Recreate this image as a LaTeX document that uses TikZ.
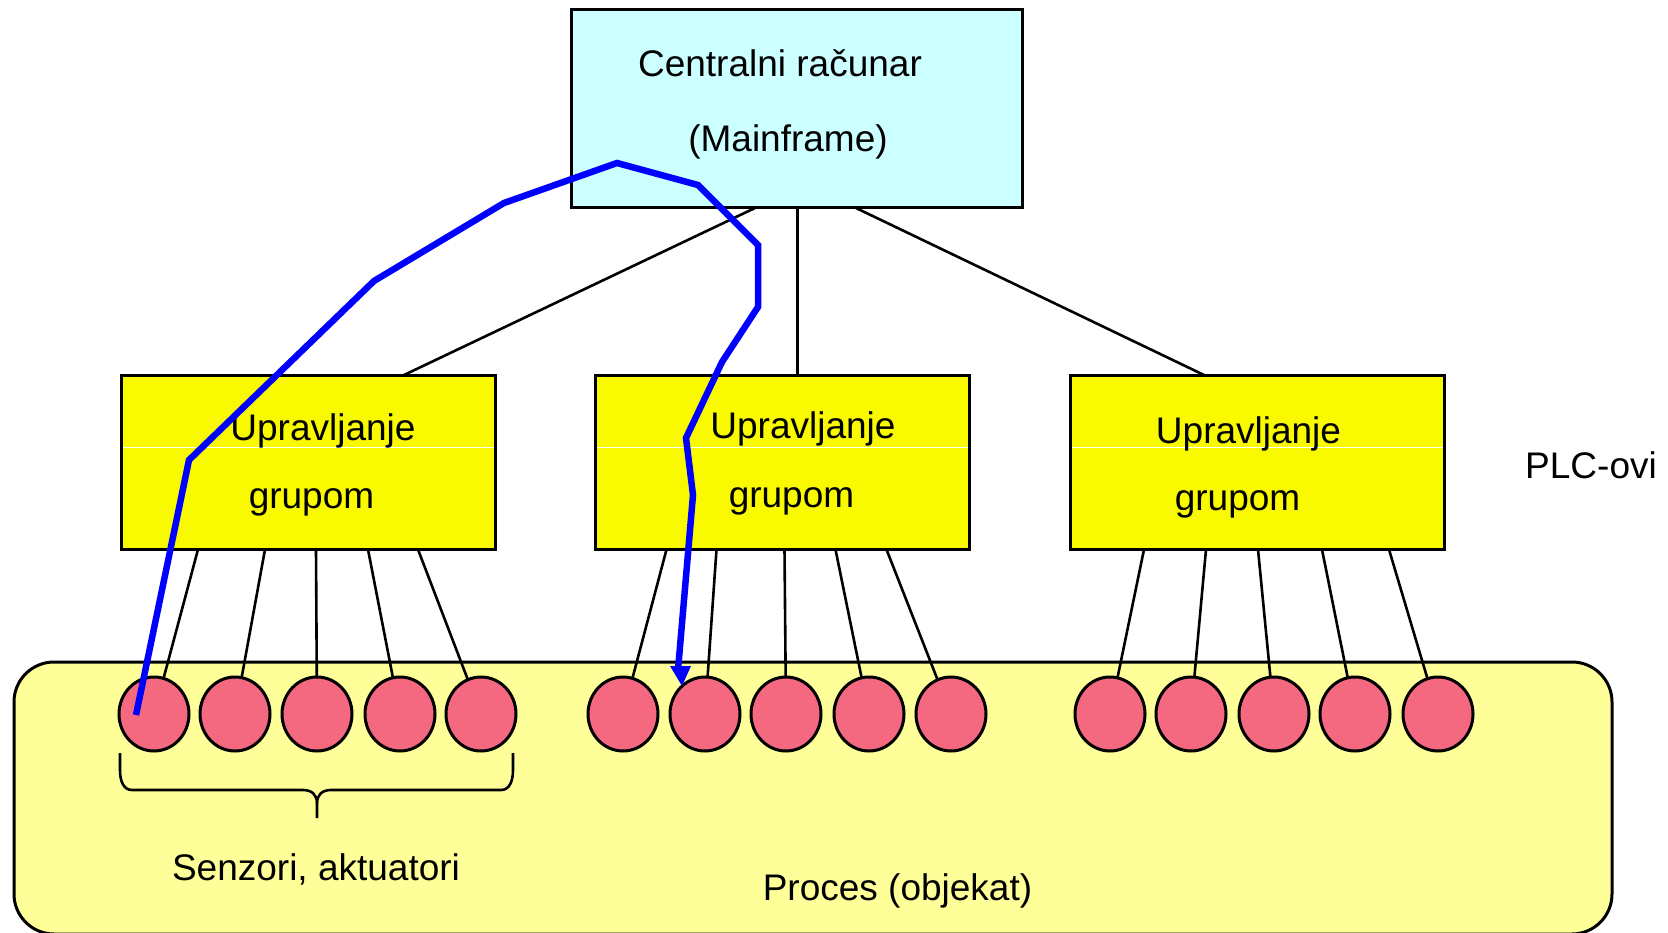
\documentclass[tikz,border=0pt]{standalone}
\usepackage{fontspec}
\setmainfont{Liberation Sans}
\usetikzlibrary{shapes.geometric}
\definecolor{mfcyan}{RGB}{204,255,255}
\definecolor{plcyellow}{RGB}{249,249,0}
\definecolor{procyellow}{RGB}{255,255,153}
\definecolor{senspink}{RGB}{244,104,128}

\begin{document}
\begin{tikzpicture}[x=1pt,y=-1pt]
\tikzstyle{every node}+=[inner sep=0pt,outer sep=0pt]
\tikzstyle{lbl}=[font=\fontsize{37}{40}\selectfont,anchor=base]
\tikzstyle{mainbox}=[draw,line width=3pt,fill=mfcyan,minimum width=451pt,minimum height=198pt]
\tikzstyle{plcbox}=[draw,line width=3pt,fill=plcyellow,minimum width=374pt,minimum height=174pt]
\tikzstyle{procbox}=[draw,line width=3pt,fill=procyellow,rounded corners=40pt,minimum width=1598pt,minimum height=272pt]
\tikzstyle{sens}=[ellipse,draw,line width=3pt,fill=senspink,minimum width=70pt,minimum height=74pt]
\tikzstyle{wire}=[black,line width=2.6pt]
\tikzstyle{flow}=[blue,line width=6.5pt]
\useasboundingbox (0,0) rectangle (1668,933);
\clip (0,0) rectangle (1668,933);
\node [procbox] (proc) at (813,798) {};
\node [mainbox] (cpu) at (796.5,109) {};
\node [plcbox] (g1) at (308,462.5) {};
\node [plcbox] (g2) at (782.5,462.5) {};
\node [plcbox] (g3) at (1257,462.5) {};
\draw [wire] ([xshift=-41.5pt]cpu.south) -- ([xshift=95pt]g1.north);
\draw [wire] ([xshift=1pt]cpu.south) -- ([xshift=15pt]g2.north);
\draw [wire] ([xshift=59.5pt]cpu.south) -- ([xshift=-52pt]g3.north);
\draw [white,line width=0.8pt] ([shift={(1.5pt,15.5pt)}]g1.west) -- ([shift={(-1.5pt,15.5pt)}]g1.east);
\draw [white,line width=0.8pt] ([shift={(1.5pt,15.5pt)}]g2.west) -- ([shift={(-1.5pt,15.5pt)}]g2.east);
\draw [white,line width=0.8pt] ([shift={(1.5pt,15.5pt)}]g3.west) -- ([shift={(-1.5pt,15.5pt)}]g3.east);
\node [sens] (s11) at (154,714) {};
\node [sens] (s12) at (235,714) {};
\node [sens] (s13) at (317,714) {};
\node [sens] (s14) at (400,714) {};
\node [sens] (s15) at (481,714) {};
\node [sens] (s21) at (623,714) {};
\node [sens] (s22) at (705,714) {};
\node [sens] (s23) at (786,714) {};
\node [sens] (s24) at (869,714) {};
\node [sens] (s25) at (951,714) {};
\node [sens] (s31) at (1110,714) {};
\node [sens] (s32) at (1191,714) {};
\node [sens] (s33) at (1274,714) {};
\node [sens] (s34) at (1355,714) {};
\node [sens] (s35) at (1438,714) {};
\draw [wire] ([xshift=77pt]g1.south west) -- (s11);
\draw [wire] ([xshift=144pt]g1.south west) -- (s12);
\draw [wire] ([xshift=195pt]g1.south west) -- (s13);
\draw [wire] ([xshift=247pt]g1.south west) -- (s14);
\draw [wire] ([xshift=297pt]g1.south west) -- (s15);
\draw [wire] ([xshift=71pt]g2.south west) -- (s21);
\draw [wire] ([xshift=121pt]g2.south west) -- (s22);
\draw [wire] ([xshift=189pt]g2.south west) -- (s23);
\draw [wire] ([xshift=240pt]g2.south west) -- (s24);
\draw [wire] ([xshift=291pt]g2.south west) -- (s25);
\draw [wire] ([xshift=74pt]g3.south west) -- (s31);
\draw [wire] ([xshift=136pt]g3.south west) -- (s32);
\draw [wire] ([xshift=188pt]g3.south west) -- (s33);
\draw [wire] ([xshift=252pt]g3.south west) -- (s34);
\draw [wire] ([xshift=319pt]g3.south west) -- (s35);
\draw [wire] (120,753) -- (120,770) .. controls (120,782) and (124,790) .. (132,790) -- (303,790) .. controls (312,790) and (317,795) .. (317,803) -- (317,818);
\draw [wire] (317,803) .. controls (317,795) and (322,790) .. (331,790) -- (501,790) .. controls (509,790) and (513,782) .. (513,770) -- (513,753);
\node [lbl] (cpul1) at (780,77) {Centralni računar};
\node [lbl] (cpul2) at (788,152) {(Mainframe)};
\node [lbl] (g1l1) at (323,440) {Upravljanje};
\node [lbl] (g1l2) at (311.5,508) {grupom};
\node [lbl] (g2l1) at (803,438) {Upravljanje};
\node [lbl] (g2l2) at (791.5,507) {grupom};
\node [lbl] (g3l1) at (1248.5,443) {Upravljanje};
\node [lbl] (g3l2) at (1237.5,510) {grupom};
\node [lbl] (plcl) at (1591,478) {PLC-ovi};
\node [lbl] (sensl) at (316,880) {Senzori, aktuatori};
\node [lbl] (procl) at (897.5,900) {Proces (objekat)};
\coordinate (fs) at (136,715);
\coordinate (fe) at (678,670);
\draw [flow] (fs) -- (189,460) -- (374,281) -- (504,203) -- (617,163) -- (698,185) -- (758,245) -- (758,307) -- (722,362) -- (686,438) -- (693,495) -- (fe);
\fill [blue] (670,666) -- (691,666) -- (682,686) -- cycle;
\end{tikzpicture}
\end{document}
